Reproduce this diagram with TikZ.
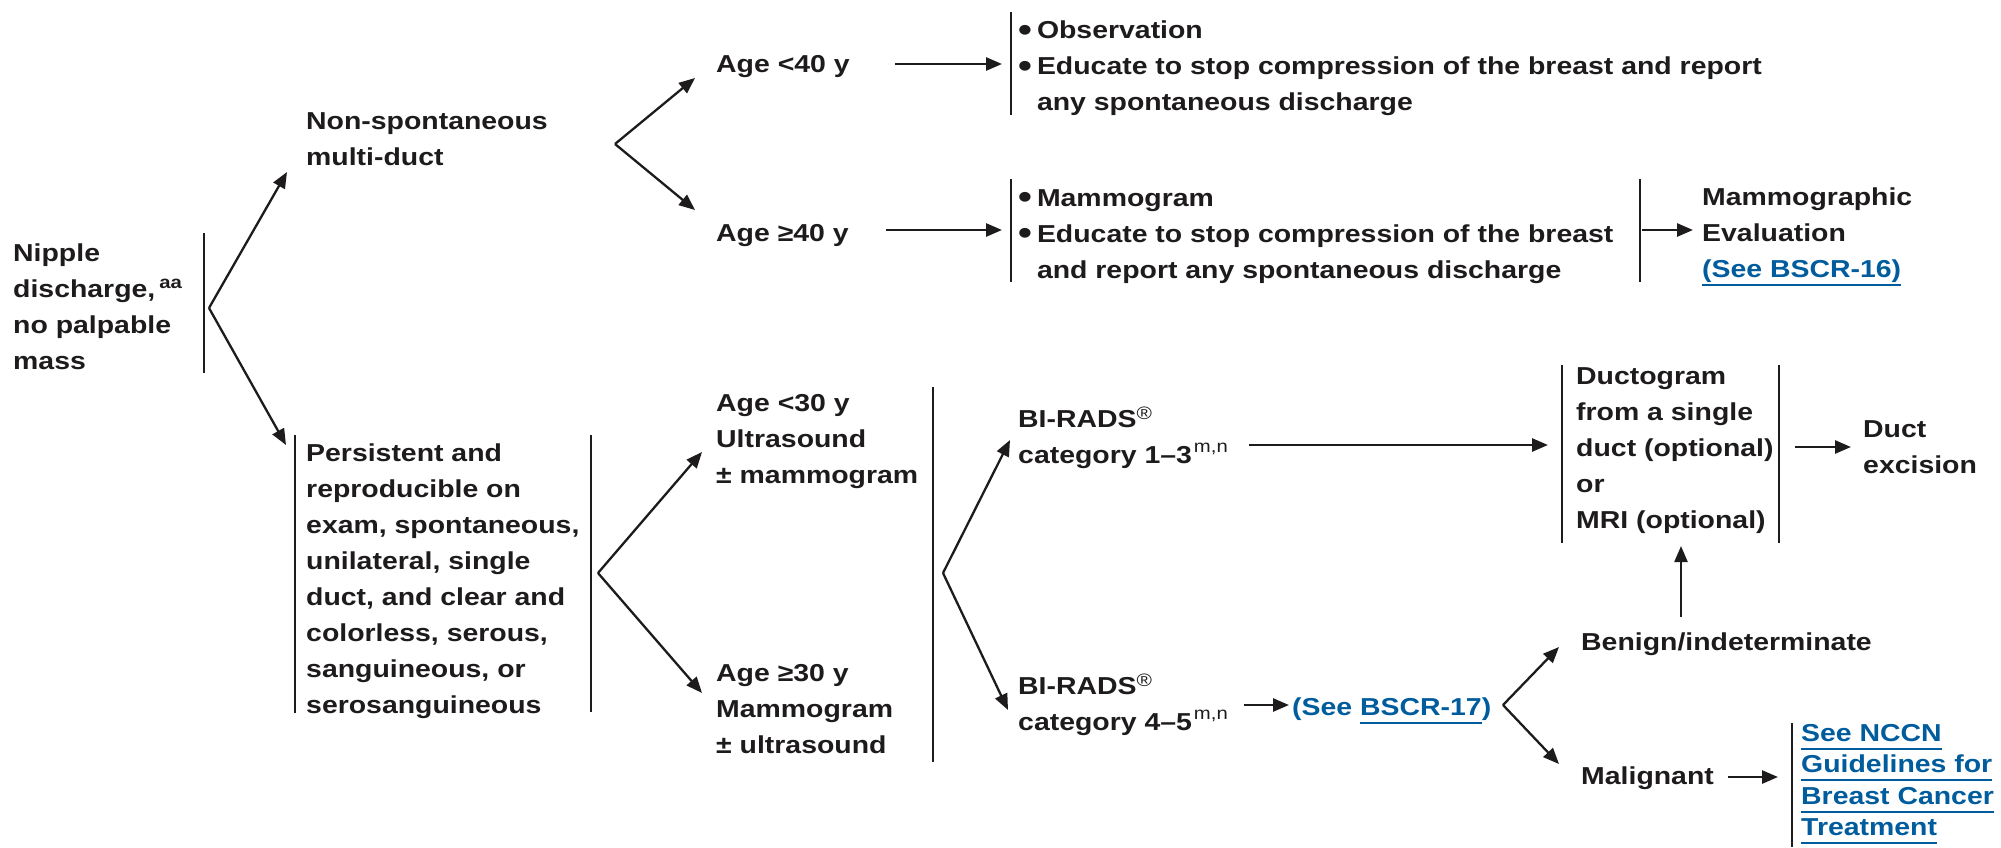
\documentclass[tikz,border=0pt]{standalone}
\usepackage{fontspec}
\setmainfont{Liberation Sans}[FakeStretch=1.16]
\usetikzlibrary{arrows.meta}
\definecolor{ink}{RGB}{30,27,28}
\definecolor{linkblue}{RGB}{0,92,156}
\newsavebox{\ulbox}
\newcommand{\uln}[1]{\sbox{\ulbox}{#1}\rlap{\color{linkblue}\rule[-8.5pt]{\wd\ulbox}{2pt}}\usebox{\ulbox}}
\newcommand{\mlines}[1]{\begin{tabular}[t]{@{}l@{}}#1\end{tabular}}
\newcommand{\blist}[1]{\begin{tabular}[t]{@{}l@{\hspace{5pt}}l@{}}#1\end{tabular}}
\newcommand{\bul}{\raisebox{-2.5pt}{\fontsize{34}{34}\selectfont\textbullet}}
\newcommand{\sups}[2][9pt]{\raisebox{#1}{\fontsize{17.5}{17.5}\selectfont #2}}
\newcommand{\regm}{\raisebox{8pt}{\mdseries\fontsize{18}{18}\selectfont\char"00AE}}
\begin{document}
\begin{tikzpicture}[x=1pt,y=-1pt,
  txt/.style={inner sep=0pt, anchor=base west, text=ink,
    font=\bfseries\fontsize{24.5}{36}\selectfont},
  arr/.style={draw=ink, line width=2.3pt, -{Triangle[length=16pt,width=13pt]}},
  harr/.style={arr, line width=2.7pt},
  bar/.style={draw=ink, line width=2pt}]
\useasboundingbox (0,0) rectangle (2001,848);

% ---- text nodes
\node[txt] (nip) at (13,261) {\mlines{Nipple\\discharge,\,\sups{aa}\\no palpable\\mass}};
\node[txt] (ns) at (306,129) {\mlines{Non-spontaneous\\multi-duct}};
\node[txt] (a40) at (716,73) {Age <40 y};
\node[txt] (a40b) at (716,241) {Age ≥40 y};
\node[txt] (obs) at (1018,39) {\blist{\bul & Observation\\
  \bul & Educate to stop compression of the breast and report\\
  & any spontaneous discharge}};
\node[txt] (mam) at (1018,206) {\blist{\bul & Mammogram\\
  \bul & Educate to stop compression of the breast\\
  & and report any spontaneous discharge}};
\node[txt] (meval) at (1702,205) {\mlines{Mammographic\\Evaluation\\{\color{linkblue}\uln{(See BSCR-16)}}}};
\node[txt] (pers) at (306,461) {\mlines{Persistent and\\reproducible on\\exam, spontaneous,\\unilateral, single\\duct, and clear and\\colorless, serous,\\sanguineous, or\\serosanguineous}};
\node[txt] (a30) at (716,411) {\mlines{Age <30 y\\Ultrasound\\± mammogram}};
\node[txt] (a30b) at (716,681) {\mlines{Age ≥30 y\\Mammogram\\± ultrasound}};
\node[txt] (bi13) at (1018,427) {\mlines{BI-RADS\regm\\category 1–3\kern2pt\sups[11pt]{\mdseries m,n}}};
\node[txt] (bi45) at (1018,694) {\mlines{BI-RADS\regm\\category 4–5\kern2pt\sups[11pt]{\mdseries m,n}}};
\node[txt] (see17) at (1292,715) {{\color{linkblue}(See \uln{BSCR-17})}};
\node[txt] (duct) at (1576,384) {\mlines{Ductogram\\from a single\\duct (optional)\\or\\MRI (optional)}};
\node[txt] (exc) at (1863,437) {\mlines{Duct\\excision}};
\node[txt] (ben) at (1581,650) {Benign/indeterminate};
\node[txt] (mal) at (1581,784) {Malignant};
\node[txt, font=\bfseries\fontsize{24.5}{31.6}\selectfont, text=linkblue] (nccn) at (1801,741)
  {\mlines{\uln{See NCCN}\\\uln{Guidelines for}\\\uln{Breast Cancer}\\\uln{Treatment}}};

% ---- bars
\draw[bar] (204,233) -- (204,373);
\draw[bar] (1011,12) -- (1011,115);
\draw[bar] (1011,179) -- (1011,282);
\draw[bar] (1640,179) -- (1640,282);
\draw[bar] (295,435) -- (295,713);
\draw[bar] (591,435) -- (591,712);
\draw[bar] (933,387) -- (933,762);
\draw[bar] (1562,365) -- (1562,543);
\draw[bar] (1779,365) -- (1779,543);
\draw[bar] (1792,723) -- (1792,847);

% ---- junction / tip coordinates
\coordinate (j1) at (209,308);
\coordinate (t1a) at (287,172);
\coordinate (t1b) at (286,445);
\coordinate (j2) at (615,144);
\coordinate (t2a) at (695,78);
\coordinate (t2b) at (695,210);
\coordinate (j3) at (598,573);
\coordinate (t3a) at (702,452);
\coordinate (t3b) at (702,693);
\coordinate (j4) at (943,573);
\coordinate (t4a) at (1010,440);
\coordinate (t4b) at (1008,710);
\coordinate (j5) at (1503,705);
\coordinate (t5a) at (1559,647);
\coordinate (t5b) at (1559,764);

\draw[arr] (j1) -- (t1a);
\draw[arr] (j1) -- (t1b);
\draw[arr] (j2) -- (t2a);
\draw[arr] (j2) -- (t2b);
\draw[arr] (j3) -- (t3a);
\draw[arr] (j3) -- (t3b);
\draw[arr] (j4) -- (t4a);
\draw[arr] (j4) -- (t4b);
\draw[arr] (j5) -- (t5a);
\draw[arr] (j5) -- (t5b);

% ---- horizontal / vertical arrows
\coordinate (h1s) at (895,64);   \coordinate (h1e) at (1002,64);
\coordinate (h2s) at (886,230);  \coordinate (h2e) at (1002,230);
\coordinate (h3s) at (1642,230); \coordinate (h3e) at (1693,230);
\coordinate (h4s) at (1249,445); \coordinate (h4e) at (1548,445);
\coordinate (h5s) at (1795,447); \coordinate (h5e) at (1851,447);
\coordinate (h6s) at (1244,705); \coordinate (h6e) at (1289,705);
\coordinate (h7s) at (1728,777); \coordinate (h7e) at (1778,777);
\coordinate (v1s) at (1681,617); \coordinate (v1e) at (1681,546);
\draw[harr] (h1s) -- (h1e);
\draw[harr] (h2s) -- (h2e);
\draw[harr] (h3s) -- (h3e);
\draw[harr] (h4s) -- (h4e);
\draw[harr] (h5s) -- (h5e);
\draw[harr] (h6s) -- (h6e);
\draw[harr] (h7s) -- (h7e);
\draw[arr] (v1s) -- (v1e);
\end{tikzpicture}
\end{document}
